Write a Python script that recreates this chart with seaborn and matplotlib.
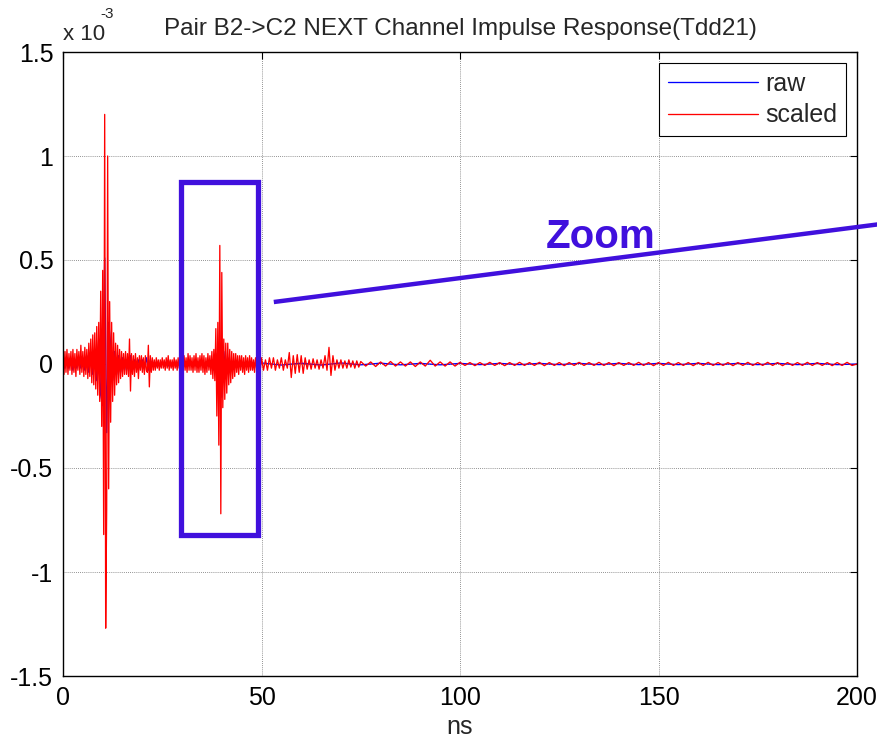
import numpy as np
import pandas as pd
import matplotlib
matplotlib.use("Agg")
import matplotlib.pyplot as plt
import seaborn as sns
from matplotlib.patches import Rectangle
from matplotlib.lines import Line2D

# ---------------- data (values in units of 1e-3) ----------------
# scaled response, segment A: 0 .. 24.75 ns, 0.25 ns step
scaled_a_t0, scaled_a_dt = 0.0, 0.25
scaled_a = [
    0.07, -0.05, 0.06, -0.04, 0.07, -0.05, 0.05, -0.03,
    0.06, -0.05, 0.07, -0.04, 0.05, -0.06, 0.07, -0.03,
    0.06, -0.05, 0.09, -0.04, 0.06, -0.06, 0.08, -0.05,
    0.07, -0.07, 0.10, -0.06, 0.12, -0.09, 0.14, -0.10,
    0.15, -0.12, 0.18, -0.15,
    0.20, -0.18, 0.35, -0.30,
    0.45, -0.82, 1.20, -1.27, -0.70, 1.00, -0.60, 0.30,
    -0.28, 0.20, -0.18, 0.15, -0.15, 0.10, -0.10, 0.09,
    -0.09, 0.07, -0.07, 0.06, -0.06, 0.05, -0.05, 0.06,
    -0.05, 0.05, -0.06, 0.12, -0.13, 0.05, -0.05, 0.04,
    -0.06, 0.05, -0.04, 0.03, -0.07, 0.04, -0.03, 0.04,
    -0.04, 0.03, -0.05, 0.04, -0.03, -0.04, 0.09, -0.11,
    0.04, -0.04, 0.03, -0.03, 0.02, -0.03, 0.03, -0.02,
    0.02, -0.03, 0.02, -0.02,
]
# scaled response, segment B: 25 .. 49.75 ns, 0.25 ns step
scaled_b_t0, scaled_b_dt = 25.0, 0.25
scaled_b = [
    0.03, -0.02, 0.02, -0.03, 0.03, -0.02, 0.04, -0.03, 0.02, -0.02,
    0.02, -0.03, 0.03, -0.02, 0.02, -0.03, 0.03, -0.02, 0.03, -0.02,
    0.03, -0.04, 0.04, -0.03, 0.03, -0.04, 0.05, -0.03, 0.04, -0.03,
    0.03, -0.04, 0.04, -0.03, 0.05, -0.04, 0.03, -0.04, 0.04, -0.03,
    0.05, -0.04, 0.04, -0.05, 0.03, -0.04, 0.05, -0.03, 0.04, -0.05,
    0.06, -0.07, 0.07, -0.08, 0.17, -0.25, 0.20, -0.39, 0.57, -0.72,
    0.44, -0.21, 0.12, -0.17, 0.10, -0.14, 0.10, -0.10, 0.07, -0.09,
    0.06, -0.07, 0.05, -0.06, 0.05, -0.04, 0.04, -0.05, 0.04, -0.03,
    0.04, -0.04, 0.03, -0.05, 0.04, -0.03, 0.03, -0.04, 0.04, -0.03,
    0.03, -0.03, 0.02, -0.04, 0.03, -0.02, 0.03, -0.03, 0.02, -0.02,
]
# scaled response, segment C: 50 .. 74.5 ns, 0.5 ns step
scaled_c_t0, scaled_c_dt = 50.0, 0.5
scaled_c = [
    0.03, -0.03, 0.02, -0.03, 0.03, -0.02, 0.03, -0.03, 0.02, -0.02,
    0.03, -0.03, 0.02, -0.02,
    0.055, -0.065, 0.04, -0.045, 0.045, -0.04, 0.04, -0.045, 0.03, -0.025,
    0.02, -0.025, 0.025, -0.02, 0.02, -0.025, 0.02, -0.02, 0.04, -0.03,
    0.08, -0.055, 0.04, -0.03, 0.02, -0.02, 0.02, -0.02, 0.015, -0.02,
    0.02, -0.015, 0.015, -0.02, 0.015, -0.015,
]
# scaled response, segment D: 75 .. 200 ns, 1.25 ns step
scaled_d_t0, scaled_d_dt = 75.0, 1.25
scaled_d = [
    0.012, -0.010, 0.010, -0.012, 0.010, -0.010, 0.012, -0.010, 0.010, -0.010,
    0.010, -0.012, 0.010, -0.010, 0.018, -0.010, 0.010, -0.010, 0.010, -0.010,
    0.008, -0.007, 0.007, -0.008, 0.007, -0.007, 0.008, -0.007, 0.007, -0.008,
    0.007, -0.007, 0.008, -0.007, 0.007, -0.007, 0.008, -0.008, 0.007, -0.007,
    0.007, -0.008, 0.007, -0.007, 0.008, -0.007, 0.007, -0.007, 0.008, -0.007,
    0.007, -0.008, 0.007, -0.007, 0.007, -0.007, 0.008, -0.007, 0.007, -0.008,
    0.007, -0.007, 0.008, -0.007, 0.007, -0.007, 0.007, -0.008, 0.007, -0.007,
    0.008, -0.007, 0.007, -0.007, 0.007, -0.008, 0.007, -0.007, 0.008, -0.007,
    0.007, -0.007, 0.008, -0.007, 0.007, -0.008, 0.007, -0.007, 0.007, -0.007,
    0.008, -0.007, 0.007, -0.007, 0.007, -0.008, 0.007, -0.007, 0.008, -0.007,
    0.0,
]
# raw response: 0 .. 49.5 ns at 0.5 ns, then 50 .. 200 ns at 5 ns
raw_a_t0, raw_a_dt = 0.0, 0.5
raw_a = [
    0.02, -0.02, 0.03, -0.02, 0.02, -0.03, 0.02, -0.02, 0.03, -0.02,
    0.03, -0.03, 0.04, -0.04, 0.05, -0.05,
    0.07, -0.08, 0.12, -0.15,
    -0.20, 0.51, -0.33, 0.20,
    0.10, -0.08, 0.06, -0.05, 0.04, -0.04,
    0.03, -0.03, 0.02, -0.03, 0.04, -0.03, 0.02, -0.02, 0.02, -0.02,
    0.02, -0.02, 0.03, -0.03, 0.02, -0.01, 0.01, -0.01, 0.01, -0.01,
    0.01, -0.01, 0.01, -0.01, 0.01, -0.01, 0.01, -0.01, 0.01, -0.01,
    0.01, -0.01, 0.01, -0.01, 0.01, -0.01, 0.01, -0.01, 0.01, -0.01,
    0.01, -0.01, 0.01, -0.01, 0.01,
    0.02, -0.03, 0.05, -0.08, 0.08, -0.16, 0.06, -0.05, 0.03, -0.02,
    0.01, -0.01, 0.01, -0.01, 0.01, -0.01, 0.01, -0.01, 0.01, -0.01,
    0.01, -0.01, 0.01, -0.01, 0.01,
]
raw_b_t0, raw_b_dt = 50.0, 5.0
raw_b = [
    0.005, -0.005, 0.004, -0.005, 0.005, -0.004, 0.004, -0.004, 0.003, -0.004,
    0.003, -0.003, 0.003, -0.003, 0.003, -0.003, 0.003, -0.003, 0.003, -0.003,
    0.003, -0.003, 0.003, -0.003, 0.003, -0.003, 0.003, -0.003, 0.003, -0.003,
    0.0,
]

series_names = ["raw", "scaled"]
series_colors = {"raw": "#0000ff", "scaled": "#ff0000"}
x_ticks = [0, 50, 100, 150, 200]
y_ticks = [-1.5, -1, -0.5, 0, 0.5, 1, 1.5]
y_ticklabels = ["-1.5", "-1", "-0.5", "0", "0.5", "1", "1.5"]
title_text = "Pair B2->C2 NEXT Channel Impulse Response(Tdd21)"


def seg(t0, dt, vals, name):
    t = t0 + dt * np.arange(len(vals))
    return pd.DataFrame({"t": t, "v": vals, "series": name})


df = pd.concat([
    seg(raw_a_t0, raw_a_dt, raw_a, "raw"),
    seg(raw_b_t0, raw_b_dt, raw_b, "raw"),
    seg(scaled_a_t0, scaled_a_dt, scaled_a, "scaled"),
    seg(scaled_b_t0, scaled_b_dt, scaled_b, "scaled"),
    seg(scaled_c_t0, scaled_c_dt, scaled_c, "scaled"),
    seg(scaled_d_t0, scaled_d_dt, scaled_d, "scaled"),
], ignore_index=True)

# ---------------- styling ----------------
sns.set_style("white")
plt.rcParams["font.family"] = ["Liberation Sans", "DejaVu Sans"]

W, H = 877, 741
fig = plt.figure(figsize=(W / 100, H / 100), dpi=100)
ax = fig.add_axes([63 / W, 1 - 676 / H, (857 - 63) / W, (676 - 52) / H])

sns.lineplot(data=df, x="t", y="v", hue="series", hue_order=series_names,
             palette=series_colors, estimator=None, sort=False,
             linewidth=0.95, ax=ax, legend=False)

ax.set_xlim(0, 200)
ax.set_ylim(-1.5, 1.5)
ax.set_xticks(x_ticks)
ax.set_xticklabels([str(v) for v in x_ticks])
ax.set_yticks(y_ticks)
ax.set_yticklabels(y_ticklabels)
ax.tick_params(direction="in", length=5, width=0.8, top=True, right=True,
               labelsize=18, pad=7, colors="black")
ax.grid(True, linestyle=(0, (1, 1.5)), color="#707070", linewidth=0.6)
for s in ax.spines.values():
    s.set_color("black")
    s.set_linewidth(1.0)

ax.set_xlabel("ns", fontsize=18, labelpad=4)
ax.set_ylabel("")
ax.set_title(title_text, fontsize=17.5, pad=12)

fig.text(63 / W, 1 - 40 / H, "x 10", fontsize=16, ha="left", va="baseline")
fig.text(100 / W, 1 - 18 / H, "-3", fontsize=11, ha="left", va="baseline")

handles = [Line2D([], [], color=series_colors[n], linewidth=0.95) for n in series_names]
leg = ax.legend(handles, series_names, loc="upper right", fontsize=18,
                frameon=True, fancybox=False, edgecolor="black",
                framealpha=1, handlelength=3.6, handletextpad=0.3,
                labelspacing=0.3, borderaxespad=0.45, borderpad=0.35)
leg.get_frame().set_linewidth(0.8)

# annotation
zc = "#4010dd"
ax.add_patch(Rectangle((29.7, -0.82), 19.4, 1.695, fill=False,
                       edgecolor=zc, linewidth=3.8, zorder=5))
ax.plot([53.1, 206.0], [0.298, 0.673], color=zc, linewidth=3.2,
        clip_on=False, zorder=5, solid_capstyle="butt")
ax.text(135.5, 0.61, "Zoom", color=zc, fontsize=29, fontweight="bold",
        ha="center", va="center", zorder=6)

fig.savefig("out.png", dpi=100)
